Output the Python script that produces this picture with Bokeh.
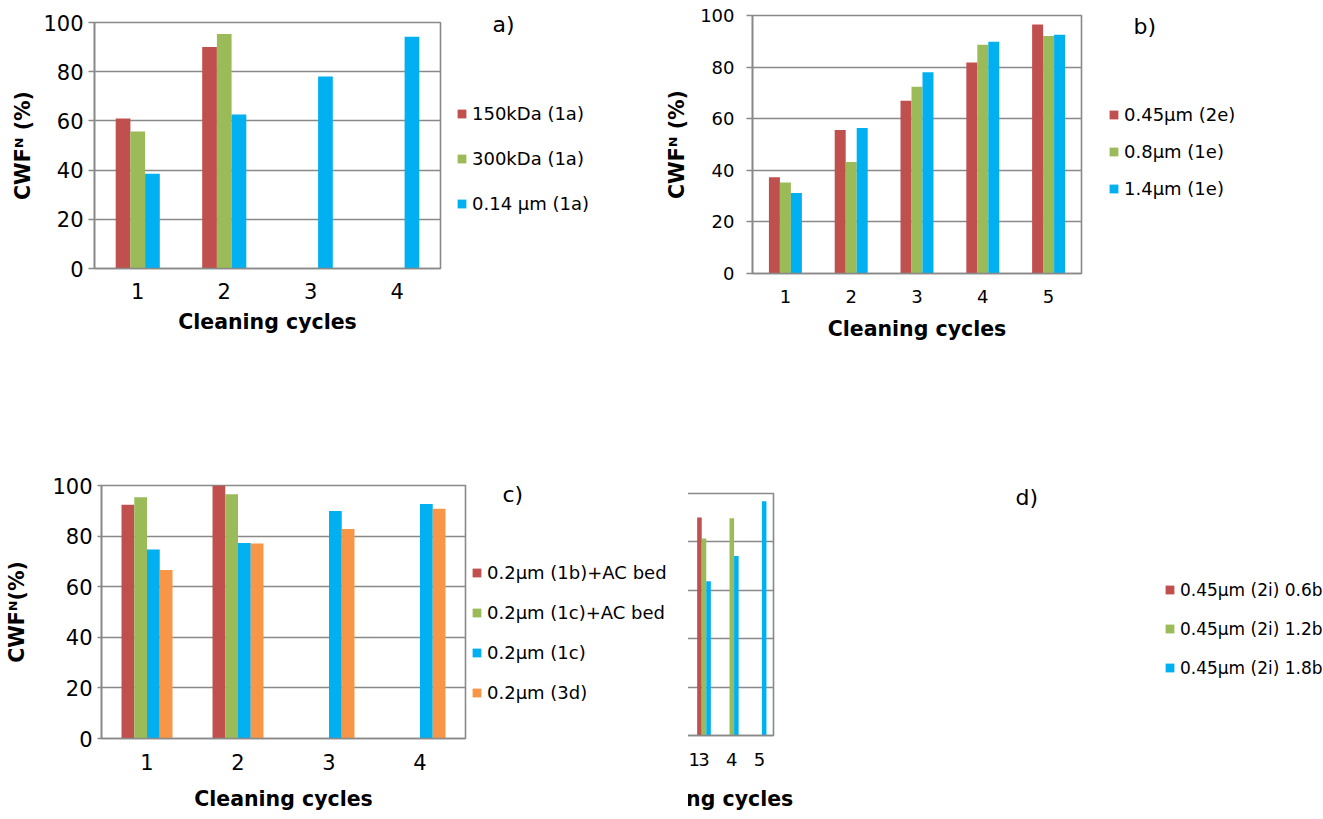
from bokeh.plotting import figure
from bokeh.models import (ColumnDataSource, Range1d, FixedTicker, Legend, LegendItem, Title)
from bokeh.layouts import column, row
from bokeh.embed import file_html
from bokeh.resources import INLINE

# ---------------- data ----------------
cycles_a = [1, 2, 3, 4]
a_150kDa = [61, 90, None, None]
a_300kDa = [55.7, 95.3, None, None]
a_014um = [38.5, 62.6, 78, 94.2]
labels_a = ["150kDa (1a)", "300kDa (1a)", "0.14 µm (1a)"]

cycles_b = [1, 2, 3, 4, 5]
b_045um = [37.3, 55.6, 67, 81.8, 96.5]
b_08um = [35.3, 43.2, 72.4, 88.7, 92.1]
b_14um = [31.2, 56.4, 78, 89.8, 92.5]
labels_b = ["0.45µm (2e)", "0.8µm (1e)", "1.4µm (1e)"]

cycles_c = [1, 2, 3, 4]
c_1b_ac = [92.4, 100, None, None]
c_1c_ac = [95.4, 96.5, None, None]
c_1c = [74.7, 77.3, 89.9, 92.7]
c_3d = [66.6, 77.1, 82.8, 90.8]
labels_c = ["0.2µm (1b)+AC bed", "0.2µm (1c)+AC bed", "0.2µm (1c)", "0.2µm (3d)"]

cycles_d = [1, 2, 3, 4, 5]
d_06bar = [70.5, 80, 90.1, None, None]
d_12bar = [43.7, 63.3, 81.4, 89.8, None]
d_18bar = [31.6, 37.5, 63.7, 74.2, 96.8]
labels_d = ["0.45µm (2i) 0.6bar", "0.45µm (2i) 1.2bar", "0.45µm (2i) 1.8bar"]

y_ticks = [0, 20, 40, 60, 80, 100]

RED, GREEN, BLUE, ORANGE = "#C0504D", "#9BBB59", "#00B0F0", "#F79646"
GRAY = "#898989"
FONT = "DejaVu Sans"


def panel(cycles, series, labels, colors, bw, width, height, borders, tick_fs,
          ylab, y_tick_out, y_std, y_als, x_std, x_als, leg_margin, leg_drop,
          leg_spacing, leg_fs, tag, tag_offset, tag_standoff):
    ml, mr, mt, mb = borders
    p = figure(width=width, height=height, output_backend="svg", toolbar_location=None,
               x_range=Range1d(0.5, len(cycles) + 0.5), y_range=Range1d(0, 100),
               min_border_left=ml, min_border_right=mr, min_border_top=mt,
               min_border_bottom=mb)
    n = len(series)
    items = []
    for i, (vals, lab, col) in enumerate(zip(series, labels, colors)):
        off = (i - (n - 1) / 2) * bw
        xs = [c + off for c, v in zip(cycles, vals) if v is not None]
        ys = [v for v in vals if v is not None]
        src = ColumnDataSource(dict(x=xs, top=ys))
        r = p.vbar(x="x", top="top", bottom=0, width=bw, source=src,
                   fill_color=col, line_color=None)
        items.append(LegendItem(label=lab, renderers=[r]))

    p.outline_line_color = GRAY
    p.outline_line_width = 1.6
    p.xgrid.visible = False
    p.ygrid.grid_line_color = GRAY
    p.ygrid.grid_line_width = 1.6
    p.yaxis.ticker = FixedTicker(ticks=y_ticks)
    p.xaxis.ticker = FixedTicker(ticks=cycles)
    for ax in (p.xaxis, p.yaxis):
        ax.axis_line_color = GRAY
        ax.axis_line_width = 1.6
        ax.major_tick_line_color = GRAY
        ax.major_tick_line_width = 1.6
        ax.minor_tick_line_color = None
        ax.major_label_text_font = FONT
        ax.major_label_text_font_size = tick_fs
        ax.major_label_text_color = "#000000"
        ax.axis_label_text_font = FONT
        ax.axis_label_text_font_style = "bold"
        ax.axis_label_text_font_size = "20.5px"
        ax.axis_label_text_color = "#000000"
    p.xaxis.major_tick_out = 0
    p.xaxis.major_tick_in = 0
    p.yaxis.major_tick_in = 0
    p.yaxis.major_tick_out = y_tick_out
    p.yaxis.major_label_standoff = y_std
    p.yaxis.axis_label_standoff = y_als
    p.xaxis.major_label_standoff = x_std
    p.xaxis.axis_label_standoff = x_als
    p.xaxis.axis_label = "Cleaning cycles"
    p.yaxis.axis_label = ylab

    leg = Legend(items=items, location="top_left", glyph_width=11, glyph_height=11,
                 label_standoff=5, padding=0, margin=leg_margin, spacing=leg_spacing,
                 label_height=21, border_line_color=None, background_fill_alpha=0,
                 label_text_font=FONT, label_text_font_size=leg_fs,
                 label_text_color="#000000",
                 title=".", title_text_font_size="12px", title_text_alpha=0,
                 title_standoff=leg_drop)
    p.add_layout(leg, "right")
    p.add_layout(Title(text=tag, align="left", vertical_align="bottom", offset=tag_offset,
                       standoff=tag_standoff, text_font=FONT, text_font_size="22px",
                       text_font_style="normal", text_color="#000000"), "above")
    return p


fa = panel(cycles_a, [a_150kDa, a_300kDa, a_014um], labels_a, [RED, GREEN, BLUE], 0.17,
           660, 448, (94, 220, 22, 180), "21px", "CWFᴺ (%)", 6, 5, 5, 14, 8,
           16, 51, 24, "18px", "a)", 398, -28)
fb = panel(cycles_b, [b_045um, b_08um, b_14um], labels_b, [RED, GREEN, BLUE], 0.167,
           655, 448, (92, 234, 15, 175), "18px", "CWFᴺ (%)", 6, 12, 8, 16, 11,
           27, 48, 16, "18px", "b)", 381, -46)
fc = panel(cycles_c, [c_1b_ac, c_1c_ac, c_1c, c_3d], labels_c, [RED, GREEN, BLUE, ORANGE], 0.14,
           688, 365, (101, 223, 37, 74), "21px", "CWFᴺ(%)", 4, 5, 20, 15, 14,
           6, 57, 19, "18px", "c)", 401, -42)
fd = panel(cycles_d, [d_06bar, d_12bar, d_18bar], labels_d, [RED, GREEN, BLUE], 0.164,
           627, 365, (83, 211, 45, 78), "18px", "CWFᴺ (%)", 5, 12, 4, 17, 18,
           8, 64, 18, "17px", "d)", 381, -32)

page = column(row(column(fa), column(fb)), row(column(fc), column(fd)))
open("out.html", "w").write(file_html(page, INLINE))
